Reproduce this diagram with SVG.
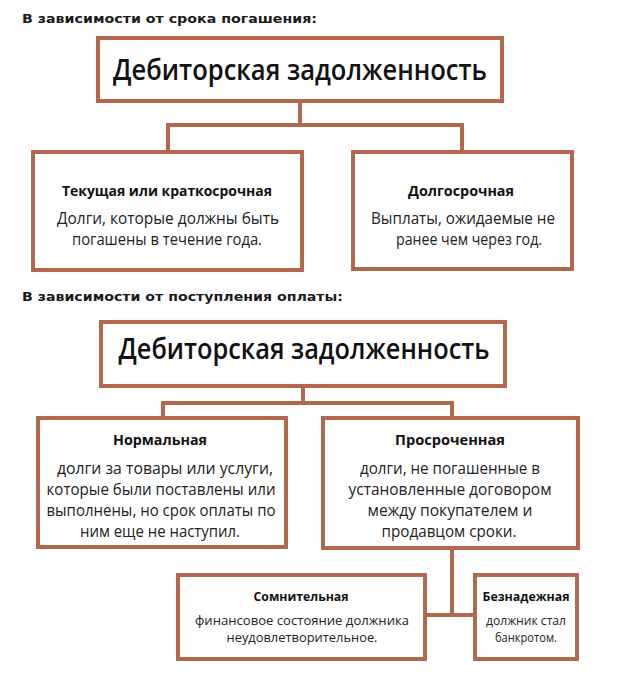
<svg xmlns="http://www.w3.org/2000/svg" width="640" height="679" viewBox="0 0 640 679">
<style>
.box{fill:#ffffff;stroke:#b3684d;stroke-width:4}
.con{fill:none;stroke:#b3684d;stroke-width:4}
.sec{font-family:"DejaVu Sans","Liberation Sans",sans-serif;font-weight:bold;font-size:13px;fill:#1a1a1a}
.title{font-family:"Open Sans","Liberation Sans",sans-serif;font-weight:600;font-size:28px;fill:#111;text-anchor:middle}
.hd{font-family:"Open Sans","Liberation Sans",sans-serif;font-weight:bold;font-size:14.5px;fill:#111;text-anchor:middle}
.bd{font-family:"Open Sans","Liberation Sans",sans-serif;font-size:16px;fill:#222;text-anchor:middle}
.hs{font-family:"Open Sans","Liberation Sans",sans-serif;font-weight:bold;font-size:12px;fill:#111;text-anchor:middle}
.bs{font-family:"Open Sans","Liberation Sans",sans-serif;font-size:13px;fill:#222;text-anchor:middle}
</style>
<rect width="640" height="679" fill="#ffffff"/>
<text class="sec" x="22" y="23" textLength="295" lengthAdjust="spacingAndGlyphs">В зависимости от срока погашения:</text>
<text class="sec" x="22" y="301" textLength="321" lengthAdjust="spacingAndGlyphs">В зависимости от поступления оплаты:</text>
<g id="connectors">
<path class="con" d="M300 101V125M168 152V125H462V152"/>
<path class="con" d="M303 386V403M163 418V403H452V418"/>
<path class="con" d="M452 548V615M425 615H475"/>
</g>
<g id="top1">
<rect class="box" x="98" y="38" width="404" height="63"/>
<text class="title" x="300" y="80" textLength="374" lengthAdjust="spacingAndGlyphs">Дебиторская задолженность</text>
</g>
<g id="short">
<rect class="box" x="33" y="152" width="269" height="118"/>
<text class="hd" x="167" y="196" textLength="210" lengthAdjust="spacingAndGlyphs">Текущая или краткосрочная</text>
<text class="bd" x="168" y="224" textLength="222" lengthAdjust="spacingAndGlyphs">Долги, которые должны быть</text>
<text class="bd" x="167" y="245" textLength="190" lengthAdjust="spacingAndGlyphs">погашены в течение года.</text>
</g>
<g id="long">
<rect class="box" x="353" y="152" width="219" height="117"/>
<text class="hd" x="461" y="196" textLength="106" lengthAdjust="spacingAndGlyphs">Долгосрочная</text>
<text class="bd" x="463" y="224" textLength="184" lengthAdjust="spacingAndGlyphs">Выплаты, ожидаемые не</text>
<text class="bd" x="469" y="245" textLength="146" lengthAdjust="spacingAndGlyphs">ранее чем через год.</text>
</g>
<g id="top2">
<rect class="box" x="101" y="322" width="404" height="64"/>
<text class="title" x="304" y="359" textLength="371" lengthAdjust="spacingAndGlyphs">Дебиторская задолженность</text>
</g>
<g id="normal">
<rect class="box" x="38" y="418" width="248" height="129"/>
<text class="hd" x="160" y="445" textLength="94" lengthAdjust="spacingAndGlyphs">Нормальная</text>
<text class="bd" x="165" y="474" textLength="216" lengthAdjust="spacingAndGlyphs">долги за товары или услуги,</text>
<text class="bd" x="161" y="495" textLength="229" lengthAdjust="spacingAndGlyphs">которые были поставлены или</text>
<text class="bd" x="161" y="516" textLength="229" lengthAdjust="spacingAndGlyphs">выполнены, но срок оплаты по</text>
<text class="bd" x="160" y="537" textLength="160" lengthAdjust="spacingAndGlyphs">ним еще не наступил.</text>
</g>
<g id="overdue">
<rect class="box" x="323" y="418" width="255" height="130"/>
<text class="hd" x="450" y="445" textLength="110" lengthAdjust="spacingAndGlyphs">Просроченная</text>
<text class="bd" x="450" y="474" textLength="180" lengthAdjust="spacingAndGlyphs">долги, не погашенные в</text>
<text class="bd" x="450" y="495" textLength="203" lengthAdjust="spacingAndGlyphs">установленные договором</text>
<text class="bd" x="450" y="516" textLength="165" lengthAdjust="spacingAndGlyphs">между покупателем и</text>
<text class="bd" x="449" y="537" textLength="135" lengthAdjust="spacingAndGlyphs">продавцом сроки.</text>
</g>
<g id="doubtful">
<rect class="box" x="178" y="575" width="247" height="84"/>
<text class="hs" x="301" y="601" textLength="95" lengthAdjust="spacingAndGlyphs">Сомнительная</text>
<text class="bs" x="302" y="625" textLength="214" lengthAdjust="spacingAndGlyphs">финансовое состояние должника</text>
<text class="bs" x="302" y="642" textLength="151" lengthAdjust="spacingAndGlyphs">неудовлетворительное.</text>
</g>
<g id="hopeless">
<rect class="box" x="475" y="575" width="102" height="84"/>
<text class="hs" x="526" y="601" textLength="87" lengthAdjust="spacingAndGlyphs">Безнадежная</text>
<text class="bs" x="526" y="625" textLength="80" lengthAdjust="spacingAndGlyphs">должник стал</text>
<text class="bs" x="526" y="642" textLength="62" lengthAdjust="spacingAndGlyphs">банкротом.</text>
</g>
</svg>
